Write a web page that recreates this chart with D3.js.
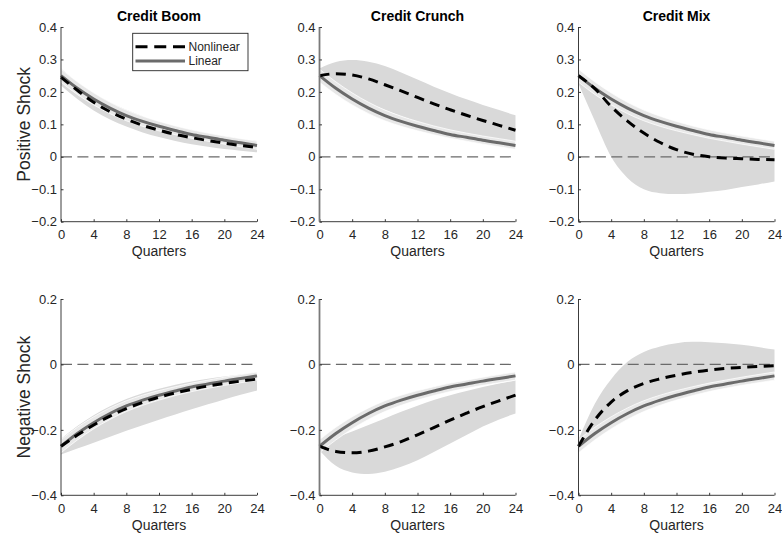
<!DOCTYPE html>
<html>
<head>
<meta charset="utf-8">
<script src="https://cdn.jsdelivr.net/npm/d3@7"></script>
<style>
  html, body { margin: 0; padding: 0; background: #fff; }
  svg { display: block; font-family: "Liberation Sans", Arial, sans-serif; }
</style>
</head>
<body>
<svg id="chart" width="782" height="536"></svg>
<script>
// Horizon (quarters) at which each response is recorded
const quarters = [0, 2, 4, 6, 8, 10, 12, 14, 16, 18, 20, 22, 24];

const columnTitles = ["Credit Boom", "Credit Crunch", "Credit Mix"];
const rowTitles = ["Positive Shock", "Negative Shock"];
const topTicks = [-0.2, -0.1, 0, 0.1, 0.2, 0.3, 0.4];
const bottomTicks = [-0.4, -0.2, 0, 0.2];
const xTicks = [0, 4, 8, 12, 16, 20, 24];

// Linear model response and band (same in every regime)
const linearPos   = [0.250, 0.211, 0.178, 0.150, 0.127, 0.109, 0.094, 0.081, 0.069, 0.060, 0.051, 0.043, 0.035];
const linearPosLo = [0.230, 0.192, 0.160, 0.133, 0.111, 0.094, 0.080, 0.068, 0.057, 0.048, 0.039, 0.031, 0.023];
const linearPosHi = [0.270, 0.231, 0.197, 0.168, 0.144, 0.125, 0.109, 0.095, 0.083, 0.073, 0.064, 0.056, 0.048];
const linearNeg   = [-0.250, -0.211, -0.178, -0.150, -0.127, -0.109, -0.094, -0.081, -0.069, -0.060, -0.051, -0.043, -0.035];
const linearNegLo = [-0.270, -0.231, -0.197, -0.168, -0.144, -0.125, -0.109, -0.095, -0.083, -0.073, -0.064, -0.056, -0.048];
const linearNegHi = [-0.230, -0.192, -0.160, -0.133, -0.111, -0.094, -0.080, -0.068, -0.057, -0.048, -0.039, -0.031, -0.023];

// Nonlinear responses, positive shock
const boomPos     = [0.245, 0.205, 0.168, 0.139, 0.116, 0.097, 0.082, 0.069, 0.059, 0.050, 0.042, 0.035, 0.029];
const boomPosLo   = [0.220, 0.178, 0.143, 0.115, 0.093, 0.075, 0.061, 0.049, 0.039, 0.031, 0.024, 0.019, 0.014];
const boomPosHi   = [0.272, 0.230, 0.196, 0.168, 0.145, 0.125, 0.108, 0.094, 0.082, 0.071, 0.062, 0.055, 0.049];
const crunchPos   = [0.250, 0.256, 0.252, 0.240, 0.222, 0.203, 0.183, 0.163, 0.145, 0.128, 0.112, 0.097, 0.082];
const crunchPosLo = [0.235, 0.215, 0.190, 0.165, 0.145, 0.125, 0.108, 0.093, 0.080, 0.070, 0.060, 0.052, 0.045];
const crunchPosHi = [0.272, 0.292, 0.298, 0.293, 0.280, 0.260, 0.238, 0.216, 0.196, 0.177, 0.160, 0.144, 0.128];
const mixPos      = [0.250, 0.210, 0.155, 0.110, 0.073, 0.044, 0.022, 0.008, 0.000, -0.004, -0.006, -0.008, -0.009];
const mixPosLo    = [0.225, 0.110, 0.000, -0.065, -0.100, -0.112, -0.115, -0.113, -0.108, -0.102, -0.093, -0.085, -0.076];
const mixPosHi    = [0.270, 0.225, 0.185, 0.155, 0.130, 0.110, 0.094, 0.080, 0.068, 0.058, 0.050, 0.043, 0.037];

// Nonlinear responses, negative shock
const boomNeg     = [-0.250, -0.216, -0.185, -0.158, -0.135, -0.116, -0.100, -0.087, -0.076, -0.066, -0.058, -0.051, -0.045];
const boomNegLo   = [-0.275, -0.257, -0.239, -0.221, -0.203, -0.186, -0.169, -0.153, -0.137, -0.122, -0.107, -0.093, -0.080];
const boomNegHi   = [-0.228, -0.188, -0.155, -0.128, -0.106, -0.088, -0.074, -0.062, -0.052, -0.044, -0.037, -0.031, -0.026];
const crunchNeg   = [-0.250, -0.266, -0.270, -0.265, -0.252, -0.236, -0.215, -0.193, -0.170, -0.149, -0.129, -0.111, -0.094];
const crunchNegLo = [-0.262, -0.310, -0.330, -0.335, -0.328, -0.313, -0.293, -0.268, -0.242, -0.216, -0.190, -0.168, -0.150];
const crunchNegHi = [-0.235, -0.222, -0.205, -0.185, -0.165, -0.145, -0.126, -0.109, -0.094, -0.081, -0.069, -0.058, -0.049];
const mixNeg      = [-0.250, -0.170, -0.115, -0.080, -0.058, -0.044, -0.033, -0.024, -0.017, -0.012, -0.009, -0.006, -0.004];
const mixNegLo    = [-0.270, -0.225, -0.185, -0.152, -0.127, -0.106, -0.089, -0.075, -0.063, -0.053, -0.044, -0.037, -0.031];
const mixNegHi    = [-0.230, -0.120, -0.045, 0.008, 0.038, 0.055, 0.065, 0.069, 0.068, 0.065, 0.060, 0.053, 0.046];

const legendLabels = ["Nonlinear", "Linear"];

// Panel table built from the arrays above
const tickFmt = v => (Math.abs(v) < 1e-9 ? "0" : d3.format(".1f")(v));
const rowsSpec = [
  { domain: [-0.2, 0.4], ticks: topTicks,
    lin: linearPos, linLo: linearPosLo, linHi: linearPosHi,
    panels: [[boomPos, boomPosLo, boomPosHi], [crunchPos, crunchPosLo, crunchPosHi], [mixPos, mixPosLo, mixPosHi]] },
  { domain: [-0.4, 0.2], ticks: bottomTicks,
    lin: linearNeg, linLo: linearNegLo, linHi: linearNegHi,
    panels: [[boomNeg, boomNegLo, boomNegHi], [crunchNeg, crunchNegLo, crunchNegHi], [mixNeg, mixNegLo, mixNegHi]] }
];

const colLeft = [61, 319.5, 578.5];
const plotW = 196;
const rowTop = [27, 299];
const rowBottom = [221.7, 495.3];

const ink = "#262626";
const nlBandColor = "#d9d9d9";
const linBandColor = "#e8e8e8";
const linColor = "#6b6b6b";

const svg = d3.select("#chart");

rowsSpec.forEach((row, ri) => {
  const y = d3.scaleLinear().domain(row.domain).range([rowBottom[ri], rowTop[ri]]);

  row.panels.forEach((p, ci) => {
    const x = d3.scaleLinear().domain([0, 24]).range([colLeft[ci], colLeft[ci] + plotW]);
    const g = svg.append("g");
    const [nl, nlLo, nlHi] = p;

    const band = (lo, hi) => d3.area()
      .x((d, i) => x(quarters[i]))
      .y0((d, i) => y(lo[i]))
      .y1((d, i) => y(hi[i]))
      .curve(d3.curveMonotoneX)(quarters);
    const line = vals => d3.line()
      .x((d, i) => x(quarters[i]))
      .y((d, i) => y(vals[i]))
      .curve(d3.curveMonotoneX)(quarters);

    // nonlinear confidence band
    g.append("path").attr("d", band(nlLo, nlHi)).attr("fill", nlBandColor);
    // linear confidence band
    g.append("path").attr("d", band(row.linLo, row.linHi))
      .attr("fill", linBandColor).attr("stroke", "#fff").attr("stroke-width", 1).attr("stroke-opacity", 0.75);

    // zero reference line
    g.append("line")
      .attr("x1", x(0)).attr("x2", x(24)).attr("y1", y(0)).attr("y2", y(0))
      .attr("stroke", "#6a6a6a").attr("stroke-width", 1.2).attr("stroke-dasharray", "11,5.4");

    // linear response
    g.append("path").attr("d", line(row.lin)).attr("fill", "none")
      .attr("stroke", linColor).attr("stroke-width", 3);
    // nonlinear response
    g.append("path").attr("d", line(nl)).attr("fill", "none")
      .attr("stroke", "#000").attr("stroke-width", 3).attr("stroke-dasharray", "10,6.5");

    // axes
    const xAxis = d3.axisBottom(x).tickValues(xTicks).tickSize(-2.5).tickPadding(8).tickFormat(d3.format("d"));
    const gx = g.append("g").attr("transform", `translate(0,${rowBottom[ri]})`).call(xAxis);
    const yAxis = d3.axisLeft(y).tickValues(row.ticks).tickSize(-2.5).tickPadding(4).tickFormat(tickFmt);
    const gy = g.append("g").attr("transform", `translate(${colLeft[ci]},0)`).call(yAxis);

    [gx, gy].forEach(a => {
      a.select(".domain").attr("stroke", ink).attr("stroke-width", 0.9);
      a.selectAll(".tick line").attr("stroke", ink).attr("stroke-width", 0.9);
      a.selectAll(".tick text").attr("fill", ink).attr("font-size", "13px")
        .attr("font-family", "'Liberation Sans', Arial, sans-serif");
    });
    if (ci === 1) {
      gy.select(".domain").attr("stroke", "#7a7a7a").attr("stroke-width", 1.8);
    }
    gx.selectAll(".domain").attr("d", `M${x(0)},0H${x(24)}`);
    gy.selectAll(".domain").attr("d", `M0,${y(row.domain[1])}V${y(row.domain[0])}`);

    // x-axis title
    g.append("text").attr("x", colLeft[ci] + plotW / 2).attr("y", rowBottom[ri] + 34.3)
      .attr("text-anchor", "middle").attr("fill", ink).attr("font-size", "14px").text("Quarters");

    // column titles
    if (ri === 0) {
      g.append("text").attr("x", colLeft[ci] + plotW / 2).attr("y", 20.5)
        .attr("text-anchor", "middle").attr("fill", "#000").attr("font-weight", "bold")
        .attr("font-size", "14px").text(columnTitles[ci]);
    }
  });

  // row titles
  const cy = (rowTop[ri] + rowBottom[ri]) / 2;
  svg.append("text").attr("transform", `translate(30,${cy}) rotate(-90)`)
    .attr("text-anchor", "middle").attr("fill", ink).attr("font-size", "17.5px").text(rowTitles[ri]);
});

// legend
const leg = svg.append("g");
leg.append("rect").attr("x", 132.7).attr("y", 33.3).attr("width", 115.3).attr("height", 37.4)
  .attr("fill", "#fff").attr("stroke", ink).attr("stroke-width", 0.9);
const legRows = [
  { y: 46.7, stroke: "#000", dash: "12,6.75" },
  { y: 61, stroke: linColor, dash: null }
];
legRows.forEach((r, i) => {
  leg.append("line").attr("x1", 135.5).attr("x2", 185).attr("y1", r.y).attr("y2", r.y)
    .attr("stroke", r.stroke).attr("stroke-width", 3).attr("stroke-dasharray", r.dash);
  leg.append("text").attr("x", 188.5).attr("y", r.y).attr("dy", "0.35em")
    .attr("fill", ink).attr("font-size", "12px").text(legendLabels[i]);
});
</script>
</body>
</html>
